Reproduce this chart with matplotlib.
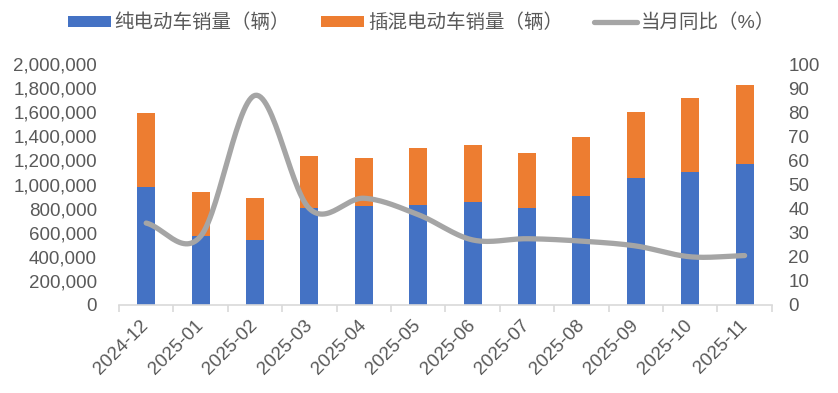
import numpy as np
import matplotlib
matplotlib.use("Agg")
import matplotlib.pyplot as plt
from matplotlib.ticker import FuncFormatter, MultipleLocator, FixedLocator

plt.rcParams['font.family'] = ['Liberation Sans', 'Noto Sans CJK SC', 'DejaVu Sans']

# Data
months = ["2024-12", "2025-01", "2025-02", "2025-03", "2025-04", "2025-05",
          "2025-06", "2025-07", "2025-08", "2025-09", "2025-10", "2025-11"]
bev = [979000, 575000, 539000, 808000, 824000, 830000,
       855000, 808000, 907000, 1056000, 1106000, 1170000]
phev = [614000, 363000, 351000, 429000, 396000, 473000,
        473000, 453000, 487000, 546000, 612000, 656000]
yoy = [34.0, 28.5, 87.0, 40.0, 44.3, 37.5, 27.0, 27.5, 26.5, 24.5, 20.0, 20.5]

blue = "#4472c4"
orange = "#ed7d31"
grey = "#a5a5a5"
text_col = "#595959"
fs = 13.5

# Smooth line like Excel (Catmull-Rom through the points)
def smooth(xs, ys, n = 30):
	xs = np.asarray(xs, float)
	ys = np.asarray(ys, float)
	px = np.concatenate([[2 * xs[0] - xs[1]], xs, [2 * xs[-1] - xs[-2]]])
	py = np.concatenate([[2 * ys[0] - ys[1]], ys, [2 * ys[-1] - ys[-2]]])
	ox, oy = [], []
	for i in range(1, len(px) - 2):
		t = np.linspace(0, 1, n)
		for (p, o) in ((px, ox), (py, oy)):
			p0, p1, p2, p3 = p[i - 1], p[i], p[i + 1], p[i + 2]
			o.extend(0.5 * ((2 * p1) + (-p0 + p2) * t + (2 * p0 - 5 * p1 + 4 * p2 - p3) * t ** 2 + (-p0 + 3 * p1 - 3 * p2 + p3) * t ** 3))
	return ox, oy

fig = plt.figure(figsize = (8.38, 3.93), dpi = 100)
ax = fig.add_axes([0.142, 0.224, 0.779, 0.613])
x = np.arange(len(months))
b1 = ax.bar(x, bev, width = 0.33, color = blue, label = "纯电动车销量（辆）", zorder = 2)
b2 = ax.bar(x, phev, width = 0.33, bottom = bev, color = orange, label = "插混电动车销量（辆）", zorder = 2)
ax.set_ylim(0, 2000000)
ax.set_xlim(-0.5, len(months) - 0.5)
ax.yaxis.set_major_locator(MultipleLocator(200000))
ax.yaxis.set_major_formatter(FuncFormatter(lambda v, p: "{:,.0f}".format(v)))
ax.set_xticks(x)
ax.set_xticklabels(months, rotation = 45, ha = "right", va = "center", rotation_mode = "anchor")
ax.xaxis.set_minor_locator(FixedLocator(np.arange(-0.5, len(months), 1.0)))
ax.tick_params(axis = "x", which = "major", length = 0, pad = 13, labelsize = fs, colors = text_col)
ax.tick_params(axis = "x", which = "minor", length = 5, width = 1.2, color = "#d9d9d9")
ax.tick_params(axis = "y", length = 0, labelsize = fs, colors = text_col, pad = 16)
for s in ["top", "right", "left"]:
	ax.spines[s].set_visible(False)
ax.spines["bottom"].set_color("#d9d9d9")
ax.spines["bottom"].set_linewidth(1.2)

ax2 = ax.twinx()
sx, sy = smooth(x, yoy)
l1, = ax2.plot(sx, sy, color = grey, linewidth = 3.8, solid_capstyle = "round", label = "当月同比（%）", zorder = 3)
ax2.set_ylim(0, 100)
ax2.yaxis.set_major_locator(MultipleLocator(10))
ax2.tick_params(axis = "y", length = 0, labelsize = fs, colors = text_col, pad = 12)
for s in ["top", "right", "left", "bottom"]:
	ax2.spines[s].set_visible(False)

fig.legend(handles = [b1, b2, l1], loc = "upper center", bbox_to_anchor = (0.503, 1.01), ncol = 3,
	frameon = False, prop = {"size": 14, "weight": "light"}, labelcolor = text_col, handlelength = 2.2, handleheight = 0.55,
	columnspacing = 1.6, handletextpad = 0.2)

plt.savefig("out.png", dpi = 100)
